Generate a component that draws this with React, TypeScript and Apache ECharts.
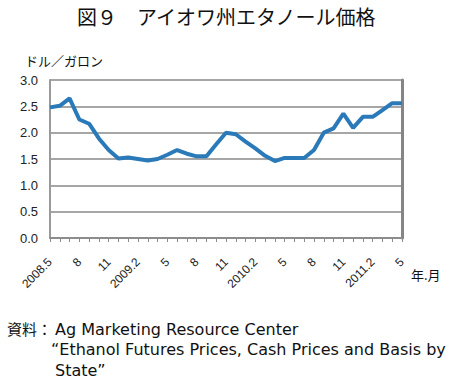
import React, { useEffect, useRef } from "react";
import * as echarts from "echarts";

const categories = [
  "2008.5", "2008.6", "2008.7", "2008.8", "2008.9", "2008.10", "2008.11", "2008.12",
  "2009.1", "2009.2", "2009.3", "2009.4", "2009.5", "2009.6", "2009.7", "2009.8",
  "2009.9", "2009.10", "2009.11", "2009.12", "2010.1", "2010.2", "2010.3", "2010.4",
  "2010.5", "2010.6", "2010.7", "2010.8", "2010.9", "2010.10", "2010.11", "2010.12",
  "2011.1", "2011.2", "2011.3", "2011.4", "2011.5",
];

const prices = [
  2.48, 2.51, 2.65, 2.25, 2.17, 1.89, 1.67, 1.51, 1.53, 1.50, 1.47, 1.50, 1.58,
  1.67, 1.60, 1.55, 1.55, 1.78, 2.00, 1.97, 1.83, 1.70, 1.56, 1.46, 1.52, 1.52,
  1.52, 1.67, 2.00, 2.08, 2.36, 2.09, 2.30, 2.30, 2.43, 2.56, 2.56,
];

const tickLabels = [
  "2008.5", "8", "11", "2009.2", "5", "8", "11", "2010.2", "5", "8", "11", "2011.2", "5",
];

const title = "図９　アイオワ州エタノール価格";
const yUnit = "ドル／ガロン";
const xUnit = "年.月";
const sourceLines = [
  "資料：",
  "Ag Marketing Resource Center",
  "“Ethanol Futures Prices, Cash Prices and Basis by",
  "State”",
];

const JP = "'Noto Sans CJK JP', 'Noto Sans', sans-serif";
const LAT = "'DejaVu Sans', 'Noto Sans CJK JP', sans-serif";
const NUM = "'Liberation Sans', sans-serif";

export default function App() {
  const ref = useRef<HTMLDivElement>(null);
  useEffect(() => {
    if (!ref.current) return;
    const chart = echarts.init(ref.current, null, { renderer: "svg" });
    chart.setOption({
      animation: false,
      backgroundColor: "#ffffff",
      grid: { left: 50, right: 52, top: 80, bottom: 145, containLabel: false },
      xAxis: {
        type: "category",
        data: categories,
        boundaryGap: false,
        axisLine: { show: true, lineStyle: { color: "#8c8c8c", width: 2 } },
        axisTick: { show: true, interval: 0, length: 4, lineStyle: { color: "#8c8c8c", width: 1 } },
        axisLabel: {
          interval: 2,
          rotate: 45,
          margin: 22,
          fontSize: 12,
          color: "#222",
          fontFamily: NUM,
          formatter: (_v: string, idx: number) => tickLabels[Math.round(idx / 3)] ?? "",
        },
        splitLine: { show: false },
      },
      yAxis: [
        {
          type: "value",
          min: 0,
          max: 3,
          interval: 0.5,
          axisLine: { show: true, lineStyle: { color: "#9a9a9a", width: 2 } },
          axisTick: { show: false },
          axisLabel: {
            margin: 12,
            fontSize: 13,
            color: "#222",
            fontFamily: NUM,
            formatter: (v: number) => v.toFixed(1),
          },
          splitLine: { show: true, lineStyle: { color: "#a6a6a6", width: 2 } },
        },
        {
          type: "value",
          min: 0,
          max: 3,
          interval: 0.5,
          position: "right",
          axisLine: { show: true, lineStyle: { color: "#858585", width: 3 } },
          axisTick: { show: false },
          axisLabel: { show: false },
          splitLine: { show: false },
        },
      ],
      series: [
        {
          type: "line",
          data: prices,
          symbol: "none",
          lineStyle: { color: "#2a7ab9", width: 4 },
          z: 5,
        },
      ],
      graphic: [
        {
          type: "text",
          left: "center",
          top: 6,
          style: { text: title, font: `20px ${JP}`, fill: "#111" },
        },
        {
          type: "text",
          x: 25,
          y: 60,
          style: { text: yUnit, font: `13px ${JP}`, fill: "#111", verticalAlign: "middle" },
        },
        {
          type: "text",
          x: 411,
          y: 274,
          style: { text: xUnit, font: `13px ${JP}`, fill: "#111", verticalAlign: "middle" },
        },
        {
          type: "text",
          x: 7,
          y: 328,
          style: { text: sourceLines[0], font: `15px ${JP}`, fill: "#111", verticalAlign: "middle" },
        },
        {
          type: "text",
          x: 55,
          y: 329,
          style: { text: sourceLines[1], font: `16px ${LAT}`, fill: "#111", verticalAlign: "middle" },
        },
        {
          type: "text",
          x: 51,
          y: 349,
          style: { text: sourceLines[2], font: `16px ${LAT}`, fill: "#111", verticalAlign: "middle" },
        },
        {
          type: "text",
          x: 55,
          y: 370,
          style: { text: sourceLines[3], font: `16px ${LAT}`, fill: "#111", verticalAlign: "middle" },
        },
      ],
    });
    return () => chart.dispose();
  }, []);
  return <div ref={ref} style={{ width: 454, height: 383, position: "fixed", left: 0, top: 0 }} />;
}
